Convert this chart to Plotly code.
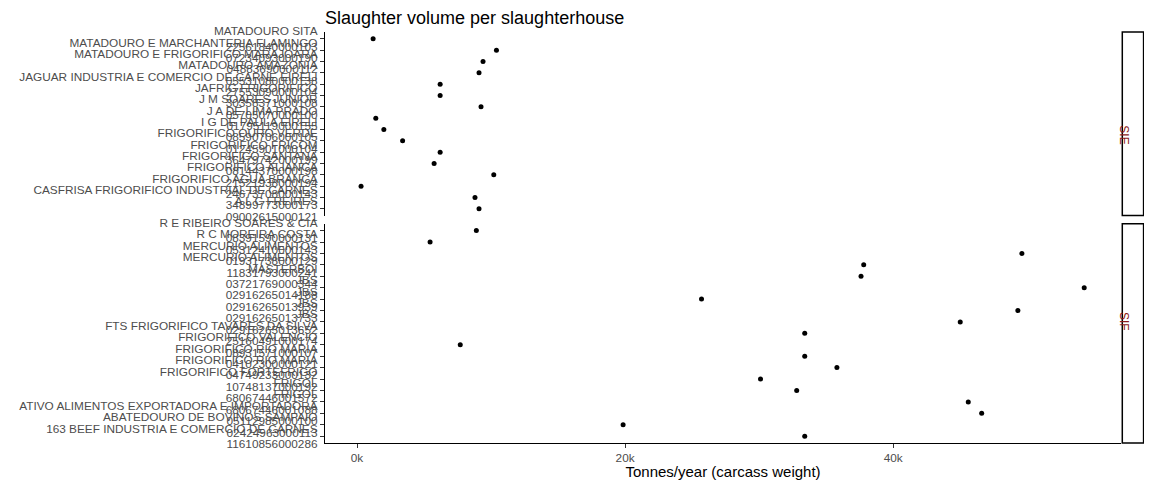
import plotly.graph_objects as go
from plotly.subplots import make_subplots


# SIE panel (top to bottom)
sie_names = [
    "MATADOURO SITA",
    "MATADOURO E MARCHANTERIA FLAMINGO",
    "MATADOURO E FRIGORIFICO MARAJOARA",
    "MATADOURO AMAZONIA",
    "JAGUAR INDUSTRIA E COMERCIO DE CARNE EIRELI",
    "JAFRIG FRIGORIFICO",
    "J M SOARES JUNIOR",
    "J A DE LIMA PRADO",
    "I G DE PAULA EIRELI",
    "FRIGORIFICO OURO VERDE",
    "FRIGORIFICO FRICOM",
    "FRIGORIFICO SANTANA",
    "FRIGORIFICO ALIANCA",
    "FRIGORIFICO AGUA BRANCA",
    "CASFRISA FRIGORIFICO INDUSTRIAL DE CARNES",
    "A L C FREIRES",
]
sie_cnpj = [
    "22561840000103",
    "07234093000190",
    "04883690000112",
    "05531080000138",
    "27553090000104",
    "30358371000108",
    "05705070000100",
    "01795119000155",
    "08590706000105",
    "01245901000104",
    "36479742000199",
    "08144370000198",
    "21521938000194",
    "24673708000143",
    "34899773000173",
    "09002615000121",
]
sie_volume = [1200, 10400, 9400, 9100, 6200, 6200, 9250, 1400,
              2000, 3400, 6200, 5750, 10200, 300, 8800, 9100]

# SIF panel (top to bottom)
sif_names = [
    "R E RIBEIRO SOARES & CIA",
    "R C MOREIRA COSTA",
    "MERCURIO ALIMENTOS",
    "MERCURIO ALIMENTOS",
    "MASTERBOI",
    "JBS",
    "JBS",
    "JBS",
    "JBS",
    "FTS FRIGORIFICO TAVARES DA SILVA",
    "FRIGORIFICO VALENCIO",
    "FRIGORIFICO RIO MARIA",
    "FRIGORIFICO RIO MARIA",
    "FRIGORIFICO FORTEFRIGO",
    "FRIGOL",
    "FRIGOL",
    "ATIVO ALIMENTOS EXPORTADORA E IMPORTADORA",
    "ABATEDOURO DE BOVINOS SAMPAIO",
    "163 BEEF INDUSTRIA E COMERCIO DE CARNES",
]
sif_cnpj = [
    "08391590000131",
    "05312410000143",
    "01931738000129",
    "11831793000241",
    "03721769000344",
    "02916265014188",
    "02916265013939",
    "02916265013733",
    "02916265013652",
    "25160491000174",
    "08931571000107",
    "04102300000121",
    "04749233000132",
    "10748137000192",
    "68067446001572",
    "68067446001088",
    "05112985000100",
    "02424963000113",
    "11610856000286",
]
sif_volume = [8900, 5450, 49600, 37800, 37600, 54250, 25700, 49300, 45000,
              33400, 7700, 33400, 35800, 30100, 32800, 45600, 46600, 19850, 33400]

panels = ["SIE", "SIF"]

TICK_FONT = dict(family="Liberation Sans, Arial", size=11.8, color="#4D4D4D")

fig = make_subplots(rows=2, cols=1, shared_xaxes=True, vertical_spacing=0.02,
                    row_heights=[180, 215])

for row, (names, cnpj, vol) in enumerate(
        [(sie_names, sie_cnpj, sie_volume), (sif_names, sif_cnpj, sif_volume)], start=1):
    labels = [f"{n}<br>{c}" for n, c in zip(names, cnpj)]
    fig.add_trace(go.Scatter(x=vol, y=labels, mode="markers",
                             marker=dict(color="black", size=5),
                             showlegend=False), row=row, col=1)
    n = len(labels)
    fig.update_yaxes(type="category", categoryorder="array", categoryarray=labels,
                     range=[n - 1 + 0.6, -0.6], tickmode="linear", tick0=0, dtick=1,
                     showline=True, linecolor="black", automargin=False,
                     linewidth=1.2, ticks="outside", ticklen=4, tickcolor="#333333",
                     showgrid=False, zeroline=False, tickfont=TICK_FONT,
                     row=row, col=1)

xr = [-2390, 57000]
fig.update_xaxes(range=xr, showgrid=False, zeroline=False, domain=[0, 0.972],
                 automargin=False)
fig.update_xaxes(showline=False, showticklabels=False, ticks="", row=1, col=1)
fig.update_xaxes(showline=True, linecolor="black", linewidth=1.2, ticks="outside",
                 ticklen=4, tickcolor="#333333", tickvals=[0, 20000, 40000],
                 ticktext=["0k", "20k", "40k"], tickfont=TICK_FONT,
                 title=dict(text="Tonnes/year (carcass weight)", standoff=4,
                            font=dict(family="Liberation Sans, Arial", size=15, color="black")),
                 row=2, col=1)
fig.update_yaxes(domain=[0.5533, 1.0], row=1, col=1)
fig.update_yaxes(domain=[0.0, 0.5335], row=2, col=1)

# facet strips on the right
for dom, lab in zip([(0.5533, 1.0), (0.0, 0.5335)], panels):
    fig.add_shape(type="rect", xref="paper", yref="paper", x0=0.9735, x1=0.9995,
                  y0=dom[0], y1=dom[1], line=dict(color="black", width=1.5),
                  fillcolor="white")
    fig.add_annotation(xref="paper", yref="paper", x=0.9865, y=(dom[0] + dom[1]) / 2,
                       text=lab, textangle=90, showarrow=False,
                       font=dict(family="Liberation Sans, Arial", size=12, color="#8B1A1A"))

# the page body adds an 8px margin, so the figure is 8px smaller each way
fig.update_layout(
    width=1144, height=472,
    margin=dict(l=317, r=8, t=24, b=37, autoexpand=False),
    paper_bgcolor="white", plot_bgcolor="white",
    title=dict(text="Slaughter volume per slaughterhouse", x=0, xref="paper",
               xanchor="left", y=0.98, yanchor="middle", automargin=False,
               font=dict(family="Liberation Sans, Arial", size=18, color="black")),
)

fig.write_html("out.html")
